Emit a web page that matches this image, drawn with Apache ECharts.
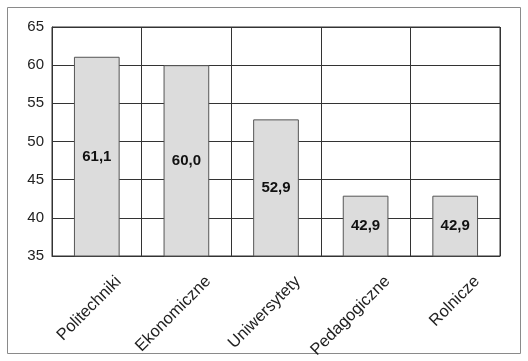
<!DOCTYPE html>
<html><head><meta charset="utf-8">
<script src="https://cdn.jsdelivr.net/npm/echarts@6/dist/echarts.min.js"></script>
<style>html,body{margin:0;padding:0;background:#fff}#c{width:528px;height:361px}</style>
</head><body><div id="c"></div>
<script>
const categories = ['Politechniki','Ekonomiczne','Uniwersytety','Pedagogiczne','Rolnicze'];
const values = [61.1, 60.0, 52.9, 42.9, 42.9];
const yMin = 35, yMax = 65, yStep = 5;

const chart = echarts.init(document.getElementById('c'), null, {renderer:'canvas'});
chart.setOption({
  animation:false,
  backgroundColor:'#fff',
  graphic:[{type:'rect', shape:{x:7.5,y:7.5,width:513,height:346}, style:{fill:'none', stroke:'#8a8a8a', lineWidth:1}, silent:true}],
  grid:{left:52, right:28, top:27, bottom:105, show:true, borderColor:'#333', borderWidth:1,
    containLabel:false, outerBoundsMode:'none'},
  xAxis:{
    type:'category', data:categories, boundaryGap:true,
    axisLine:{show:true, lineStyle:{color:'#333', width:1}},
    axisTick:{show:false},
    splitLine:{show:true, lineStyle:{color:'#333', width:1}},
    axisLabel:{rotate:45, fontFamily:'Arial, Liberation Sans', fontSize:16.5, color:'#222', margin:1, interval:0,
      verticalAlign:'top', lineHeight:62}
  },
  yAxis:{
    type:'value', min:yMin, max:yMax, interval:yStep,
    axisLine:{show:true, lineStyle:{color:'#333', width:1}},
    axisTick:{show:false},
    splitLine:{show:true, lineStyle:{color:'#333', width:1}},
    axisLabel:{fontFamily:'Arial, Liberation Sans', fontSize:15, color:'#222', margin:8}
  },
  series:[{
    type:'bar', data:values, barWidth:'51%',
    itemStyle:{color:'#dcdcdc', borderColor:'#555', borderWidth:1},
    label:{show:true, position:'inside', fontFamily:'Arial, Liberation Sans', fontSize:15, fontWeight:'bold', color:'#111',
      formatter:p=>p.value.toFixed(1).replace('.',',')}
  }]
});
</script></body></html>
